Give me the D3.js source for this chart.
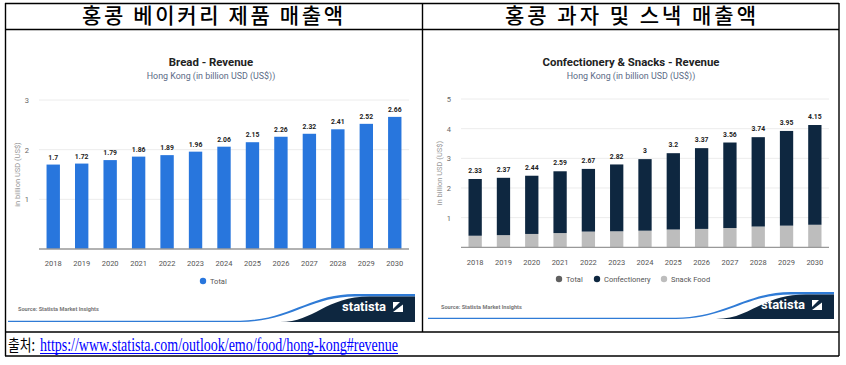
<!DOCTYPE html>
<html>
<head>
<meta charset="utf-8">
<script src="https://cdn.jsdelivr.net/npm/d3@7"></script>
<style>
  body { margin: 0; background: #fff; }
  svg { display: block; }
  text { font-family: Roboto, "Liberation Sans", sans-serif; }
</style>
</head>
<body>
<svg id="page" width="846" height="365"></svg>
<script>
// values
const years = [ '2018', '2019', '2020', '2021', '2022', '2023', '2024', '2025', '2026', '2027', '2028', '2029', '2030' ]
const breadTotal = [ 1.7, 1.72, 1.79, 1.86, 1.89, 1.96, 2.06, 2.15, 2.26, 2.32, 2.41, 2.52, 2.66 ]
const snacksTotal = [ 2.33, 2.37, 2.44, 2.59, 2.67, 2.82, 3, 3.2, 3.37, 3.56, 3.74, 3.95, 4.15 ]
const snackFood = [ 0.39, 0.41, 0.45, 0.48, 0.53, 0.54, 0.56, 0.6, 0.62, 0.65, 0.7, 0.73, 0.76 ]
const confectionery = [ 1.94, 1.96, 1.99, 2.11, 2.14, 2.28, 2.44, 2.6, 2.75, 2.91, 3.04, 3.22, 3.39 ]
const breadTicks = [ 1, 2, 3 ]
const snacksTicks = [ 1, 2, 3, 4, 5 ]
const headers = [ '홍콩 베이커리 제품 매출액', '홍콩 과자 및 스낵 매출액' ]
const sourceLabel = '출처:'
const sourceUrl = 'https://www.statista.com/outlook/emo/food/hong-kong#revenue'

const svg = d3.select( '#page' )
svg.append( 'rect' ).attr( 'width', 846 ).attr( 'height', 365 ).attr( 'fill', '#fff' )

const drawLogo = ( g, o ) => {
    // dark statista corner with the blue swoosh
    g.append( 'path' )
        .attr( 'd', `M${o.left},${o.bottom - 1.2} L${o.curve - 40},${o.bottom - 1.2} C${o.curve + 10},${o.bottom - 2} ${o.curve + 30},${o.top} ${o.curve + 75},${o.top} L${o.right},${o.top} L${o.right},${o.top + 2.5} L${o.curve + 75},${o.top + 2.5} C${o.curve + 30},${o.top + 2.5} ${o.curve + 10},${o.bottom} ${o.curve - 40},${o.bottom} L${o.left},${o.bottom} Z` )
        .attr( 'fill', '#2f7bd6' )
    g.append( 'path' )
        .attr( 'd', `M${o.curve},${o.bottom} C${o.curve + 35},${o.bottom} ${o.curve + 45},${o.top + 2.5} ${o.curve + 90},${o.top + 2.5} L${o.right},${o.top + 2.5} L${o.right},${o.bottom} Z` )
        .attr( 'fill', '#0e2740' )
    g.append( 'text' )
        .attr( 'x', o.right - 29 ).attr( 'y', o.top + 17 )
        .attr( 'text-anchor', 'end' )
        .attr( 'fill', '#fff' ).attr( 'font-size', 13 ).attr( 'font-weight', 700 )
        .text( 'statista' )
    const ix = o.right - 22, iy = o.top + 8
    g.append( 'rect' ).attr( 'x', ix ).attr( 'y', iy ).attr( 'width', 10 ).attr( 'height', 10 ).attr( 'fill', '#fff' )
    g.append( 'path' ).attr( 'd', `M${ix},${iy + 7} L${ix + 7},${iy} L${ix + 10},${iy} L${ix + 10},${iy + 2.5} L${ix},${iy + 10} Z` ).attr( 'fill', '#0e2740' )
}

const drawChart = ( o ) => {
    const g = svg.append( 'g' )

    const x = d3.scaleBand().domain( years ).range( o.xRange ).paddingInner( 0.53 ).paddingOuter( 0.265 )
    const y = d3.scaleLinear().domain( [ 0, o.max ] ).range( o.yRange )

    g.append( 'text' ).attr( 'x', o.cx ).attr( 'y', 66 ).attr( 'text-anchor', 'middle' )
        .attr( 'font-size', 11.4 ).attr( 'font-weight', 700 ).attr( 'fill', '#222' ).text( o.title )
    g.append( 'text' ).attr( 'x', o.cx ).attr( 'y', 78.5 ).attr( 'text-anchor', 'middle' )
        .attr( 'font-size', 8.9 ).attr( 'fill', '#5c6b86' ).text( 'Hong Kong (in billion USD (US$))' )

    // grid
    g.selectAll( 'line.grid' ).data( o.ticks ).join( 'line' )
        .attr( 'x1', o.xRange[0] ).attr( 'x2', o.xRange[1] )
        .attr( 'y1', d => y( d ) ).attr( 'y2', d => y( d ) )
        .attr( 'stroke', '#ececec' ).attr( 'stroke-width', 1 )

    const yAxis = g.append( 'g' )
        .attr( 'transform', `translate(${o.xRange[0] - 7},0)` )
        .call( d3.axisLeft( y ).tickValues( o.ticks ).tickSize( 0 ).tickFormat( d3.format( 'd' ) ) )
    yAxis.select( '.domain' ).remove()
    yAxis.selectAll( 'text' ).attr( 'font-size', 7.5 ).attr( 'fill', '#666' )

    g.append( 'text' )
        .attr( 'transform', `translate(${o.xRange[0] - 19},${( o.yRange[0] + o.yRange[1] ) / 2}) rotate(-90)` )
        .attr( 'text-anchor', 'middle' ).attr( 'font-size', 7.5 ).attr( 'fill', '#999' )
        .text( 'in billion USD (US$)' )

    // bars
    const stack = d3.stack().keys( o.series.map( s => s.key ) )( years.map( ( yr, i ) => {
        const row = { year: yr }
        o.series.forEach( s => row[ s.key ] = s.values[i] )
        return row
    } ) )

    stack.forEach( ( layer, li ) => {
        g.append( 'g' ).selectAll( 'rect' ).data( layer ).join( 'rect' )
            .attr( 'x', d => x( d.data.year ) )
            .attr( 'width', x.bandwidth() )
            .attr( 'y', d => y( d[1] ) + ( li > 0 ? 0.8 : 0 ) )
            .attr( 'height', d => Math.max( 0, y( d[0] ) - y( d[1] ) - ( li > 0 ? 0.8 : 0 ) ) )
            .attr( 'fill', o.series[li].color )
    } )

    g.append( 'line' )
        .attr( 'x1', o.xRange[0] ).attr( 'x2', o.xRange[1] )
        .attr( 'y1', y( 0 ) ).attr( 'y2', y( 0 ) )
        .attr( 'stroke', '#999' ).attr( 'stroke-width', 1.3 )

    g.append( 'g' ).selectAll( 'text' ).data( o.totals ).join( 'text' )
        .attr( 'x', ( d, i ) => x( years[i] ) + x.bandwidth() / 2 )
        .attr( 'y', d => y( d ) - 5 )
        .attr( 'text-anchor', 'middle' ).attr( 'font-size', 6.8 ).attr( 'font-weight', 700 ).attr( 'fill', '#222' )
        .text( d => d )

    const xAxis = g.append( 'g' )
        .attr( 'transform', `translate(0,${y( 0 ) + 9})` )
        .call( d3.axisBottom( x ).tickSize( 0 ) )
    xAxis.select( '.domain' ).remove()
    xAxis.selectAll( 'text' ).attr( 'font-size', 7.5 ).attr( 'fill', '#555' )

    // legend
    const lg = g.append( 'g' ).selectAll( 'g' ).data( o.legend ).join( 'g' )
        .attr( 'transform', d => `translate(${d.x},${o.legendY})` )
    lg.append( 'circle' ).attr( 'r', 3.2 ).attr( 'fill', d => d.color )
    lg.append( 'text' ).attr( 'x', 7 ).attr( 'dy', '0.35em' )
        .attr( 'font-size', 7.5 ).attr( 'fill', '#555' ).text( d => d.label )

    g.append( 'text' ).attr( 'x', o.sourceX ).attr( 'y', o.sourceY )
        .attr( 'font-size', 5.6 ).attr( 'font-weight', 700 ).attr( 'fill', '#777' )
        .text( 'Source: Statista Market Insights' )

    drawLogo( g, o.logo )
}

drawChart( {
    title: 'Bread - Revenue', cx: 211,
    xRange: [ 39, 409 ], yRange: [ 249, 100 ], max: 3, ticks: breadTicks,
    series: [ { key: 'total', values: breadTotal, color: '#2876dd' } ],
    totals: breadTotal,
    legendY: 281,
    legend: [ { label: 'Total', color: '#2876dd', x: 203 } ],
    sourceX: 18, sourceY: 311,
    logo: { left: 8, right: 415, top: 294, bottom: 322, curve: 280 }
} )

drawChart( {
    title: 'Confectionery & Snacks - Revenue', cx: 631,
    xRange: [ 461, 829 ], yRange: [ 247.3, 99 ], max: 5, ticks: snacksTicks,
    series: [
        { key: 'snack', values: snackFood, color: '#bdbdbd' },
        { key: 'conf', values: confectionery, color: '#0e2740' }
    ],
    totals: snacksTotal,
    legendY: 279,
    legend: [
        { label: 'Total', color: '#606060', x: 559 },
        { label: 'Confectionery', color: '#0e2740', x: 597 },
        { label: 'Snack Food', color: '#bdbdbd', x: 664 }
    ],
    sourceX: 441, sourceY: 309,
    logo: { left: 428, right: 834, top: 292, bottom: 319, curve: 716 }
} )

// table lines and captions
const border = svg.append( 'g' ).attr( 'stroke', '#000' ).attr( 'stroke-width', 1.4 )
const hLines = [ [ 5, 839, 3.5 ], [ 5, 839, 29.5 ], [ 5, 839, 332 ], [ 5, 839, 356 ] ]
const vLines = [ [ 5.5, 3, 356 ], [ 422.5, 3, 332 ], [ 839, 3, 356 ] ]
border.selectAll( 'line.h' ).data( hLines ).join( 'line' )
    .attr( 'x1', d => d[0] ).attr( 'x2', d => d[1] ).attr( 'y1', d => d[2] ).attr( 'y2', d => d[2] )
border.selectAll( 'line.v' ).data( vLines ).join( 'line' )
    .attr( 'x1', d => d[0] ).attr( 'x2', d => d[0] ).attr( 'y1', d => d[1] ).attr( 'y2', d => d[2] )

svg.selectAll( 'text.head' ).data( headers ).join( 'text' )
    .attr( 'x', ( d, i ) => i === 0 ? 82 : 505 )
    .attr( 'y', 22.5 )
    .attr( 'textLength', ( d, i ) => i === 0 ? 261 : 251 )
    .attr( 'lengthAdjust', 'spacing' )
    .style( 'font-family', '"Noto Sans CJK KR", sans-serif' ).attr( 'font-size', 21 ).attr( 'font-weight', 500 ).attr( 'fill', '#000' )
    .text( d => d )

svg.append( 'text' ).attr( 'x', 8 ).attr( 'y', 351 )
    .attr( 'textLength', 27 ).attr( 'lengthAdjust', 'spacingAndGlyphs' )
    .style( 'font-family', '"Noto Sans CJK KR", sans-serif' ).attr( 'font-size', 16 ).attr( 'fill', '#000' )
    .text( sourceLabel )
svg.append( 'text' ).attr( 'x', 40 ).attr( 'y', 351 )
    .attr( 'textLength', 358 ).attr( 'lengthAdjust', 'spacingAndGlyphs' )
    .style( 'font-family', '"Liberation Serif", serif' ).attr( 'font-size', 18 ).attr( 'fill', '#0000ff' )
    .text( sourceUrl )
svg.append( 'line' ).attr( 'x1', 40 ).attr( 'x2', 398 ).attr( 'y1', 353.5 ).attr( 'y2', 353.5 )
    .attr( 'stroke', '#0000ff' ).attr( 'stroke-width', 1 )
</script>
</body>
</html>
